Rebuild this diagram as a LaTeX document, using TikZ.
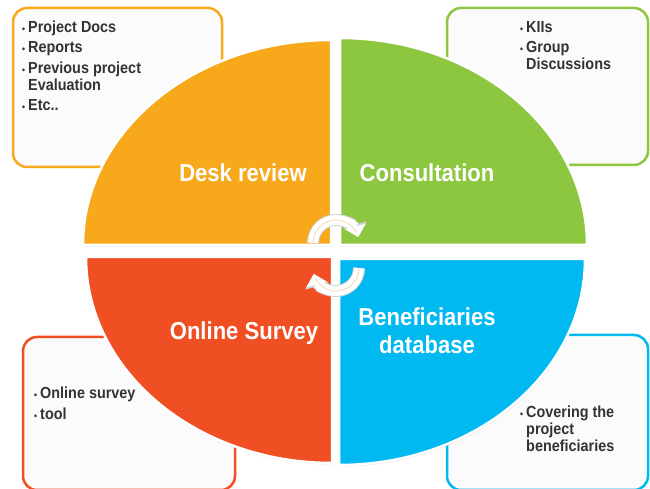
\documentclass[tikz,border=0pt]{standalone}
\usepackage{fontspec}
\setmainfont{Liberation Sans}
\newfontfamily\narrowsans[FakeStretch=0.9]{Liberation Sans}
\usetikzlibrary{positioning,arrows.meta,shadows}

\definecolor{deskcol}{HTML}{F7A81B}
\definecolor{consultcol}{HTML}{8DC63F}
\definecolor{surveycol}{HTML}{F04E23}
\definecolor{benefcol}{HTML}{00B9F1}
\definecolor{listcol}{HTML}{333333}
\definecolor{boxfill}{HTML}{FBFBFB}
\definecolor{cyclecol}{HTML}{F8D5B8}

\newcommand{\bul}{\scalebox{0.6}{\textbullet}}

\begin{document}
\begin{tikzpicture}[x=1pt, y=1pt,
	infobox/.style={draw=#1, line width=2.5pt, fill=boxfill, rounded corners=14pt},
	quarter/.style={fill=#1, draw=white, line width=2.5pt,
		drop shadow={shadow xshift=0.6pt, shadow yshift=-1.5pt, opacity=0.25}},
	listtext/.style={anchor=base west, inner sep=0pt, text=listcol,
		font=\narrowsans\bfseries\fontsize{16}{17}\selectfont},
	quartlabel/.style={text=white, align=center, inner sep=0pt,
		font=\narrowsans\bfseries\fontsize{24.5}{28}\selectfont},
	cycleshade/.style={black!18, line width=12pt, -{Triangle[width=24pt, length=13pt]}},
	cyclearrow/.style={white, line width=10pt, -{Triangle[width=21pt, length=11pt]}}
]
\useasboundingbox (0,0) rectangle (650,489);

% boxes behind the ellipse
\draw[infobox=deskcol] (13,322) rectangle (222,481);
\draw[infobox=consultcol] (447,324) rectangle (648,481);
\draw[infobox=surveycol] (23,-1) rectangle (235,152);
\draw[infobox=benefcol] (447,-1) rectangle (648,154);

% the four quarters
\draw[quarter=deskcol] (331,244) -- ++(-248,0)
	arc[start angle=180, end angle=90, x radius=248, y radius=205] -- cycle;
\draw[quarter=consultcol] (340,244) -- ++(247,0)
	arc[start angle=0, end angle=90, x radius=247, y radius=207] -- cycle;
\draw[quarter=surveycol] (332,232) -- ++(-246,0)
	arc[start angle=180, end angle=270, x radius=246, y radius=206] -- cycle;
\draw[quarter=benefcol] (339,230) -- ++(246,0)
	arc[start angle=0, end angle=-90, x radius=246, y radius=206] -- cycle;

\node[quartlabel, anchor=base] (desk) at (243,307) {Desk review};
\node[quartlabel, anchor=base] (consult) at (427,307) {Consultation};
\node[quartlabel, anchor=base] (survey) at (244,149) {Online Survey};
\node[quartlabel] (benef) at (427,158) {Beneficiaries\\database};

% lists
\node[listtext] (desklist) at (22,456.5) {\begin{tabular}[t]{@{}l@{\hspace{3pt}}l@{}}
	\bul & Project Docs\\[3.5pt]
	\bul & Reports\\[3.5pt]
	\bul & Previous project\\
	& Evaluation\\[3.5pt]
	\bul & Etc..
\end{tabular}};
\node[listtext] (consultlist) at (520,456.5) {\begin{tabular}[t]{@{}l@{\hspace{3pt}}l@{}}
	\bul & KIIs\\[3.5pt]
	\bul & Group\\
	& Discussions
\end{tabular}};
\node[listtext] (surveylist) at (34,90) {\begin{tabular}[t]{@{}l@{\hspace{3pt}}l@{}}
	\bul & Online survey\\[3.5pt]
	\bul & tool
\end{tabular}};
\node[listtext] (beneflist) at (520,71) {\begin{tabular}[t]{@{}l@{\hspace{3pt}}l@{}}
	\bul & Covering the\\
	& project\\
	& beneficiaries
\end{tabular}};

% cycle arrows in the middle
\coordinate (cycA) at (313,246);
\coordinate (cycB) at (359,221);
\foreach \c/\s/\e in {cycA/180/15, cycB/0/-165} {
	\draw[cycleshade] (\c) arc[start angle=\s, end angle=\e, radius=23];
	\draw[cyclearrow] (\c) arc[start angle=\s, end angle=\e, radius=23];
	\draw[cyclecol, line width=0.8pt] (\c) arc[start angle=\s, end angle=\e+12, radius=23];
};
\end{tikzpicture}
\end{document}
